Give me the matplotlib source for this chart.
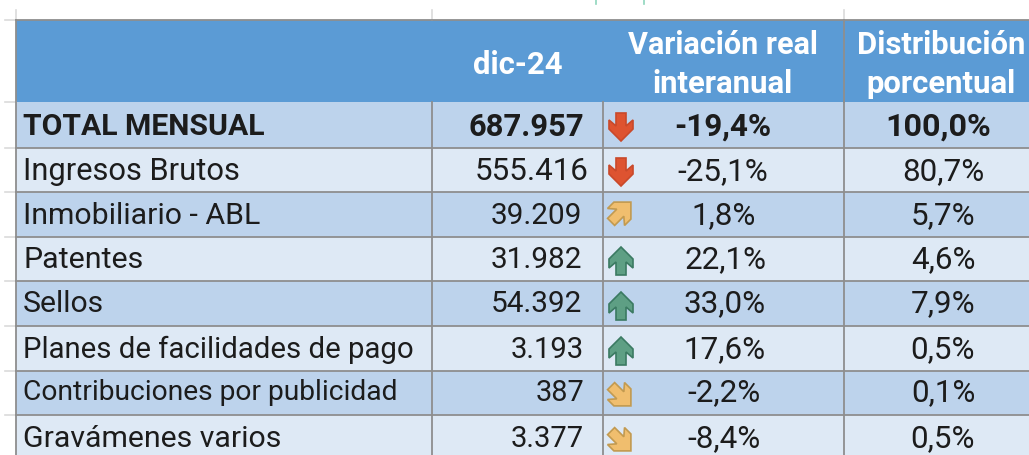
import matplotlib.pyplot as plt
from matplotlib.patches import Polygon, Rectangle
from matplotlib.transforms import Affine2D

plt.rcParams['font.family'] = ['Roboto', 'DejaVu Sans']

# Table contents
labels = ["TOTAL MENSUAL", "Ingresos Brutos", "Inmobiliario - ABL", "Patentes", "Sellos",
          "Planes de facilidades de pago", "Contribuciones por publicidad", "Gravámenes varios"]
amounts = ["687.957", "555.416", "39.209", "31.982", "54.392", "3.193", "387", "3.377"]
variation = ["-19,4%", "-25,1%", "1,8%", "22,1%", "33,0%", "17,6%", "-2,2%", "-8,4%"]
share = ["100,0%", "80,7%", "5,7%", "4,6%", "7,9%", "0,5%", "0,1%", "0,5%"]
# icon direction in degrees (0 = up, clockwise positive)
icon_angle = [180, 180, 45, 0, 0, 0, 135, 135]

# Layout in image pixels
col_x = [16, 432, 603, 844, 1029]
row_y = [102, 147.5, 192, 236.5, 281, 326, 370.5, 415, 455]
amount_right = [584, 589, 582, 582, 582, 584, 584, 584]
var_center = [723, 723, 724, 725, 725, 725, 724, 724]
share_center = [938, 943, 943, 943, 943, 943, 943, 943]
text_y = [127, 172, 216, 260, 304, 350, 393, 439]
icon_y = [127, 172, 212, 261, 306, 351, 396, 441]

# the source text was hinted unevenly, so sizes differ a little per row
label_fs = [21.7, 22.2, 21.8, 21.9, 21.7, 21.2, 20.3, 21.8]
amount_fs = [22.3, 22.6, 21.4, 21.4, 21.4, 21.1, 20.8, 21.1]

HEADER = "#5B9BD5"
DARK = "#BDD3EC"
LIGHT = "#DEE9F5"
LINE = "#8E8E8E"
FAINT = "#DADADA"
TEXT = "#1C1C1C"
FS_NUM = 22.6

# arrow pointing up, centred on 0,0 (the y axis runs downwards)
ARROW = [(0, -14), (12, -2), (12, 7), (5, 1), (5, 14), (-5, 14), (-5, 1), (-12, 7), (-12, -2)]


def icon_colors(angle):
    if angle == 180:
        return "#DE5330", "#C9492A"
    if angle == 0:
        return "#5E9F84", "#3B7A62"
    return "#F0BE6E", "#C29A50"


fig = plt.figure(figsize=(10.29, 4.55), dpi=100)
ax = fig.add_axes([0, 0, 1, 1])
ax.set_xlim(0, 1029)
ax.set_ylim(455, 0)
ax.axis("off")

# faint spreadsheet grid outside of the table
for x in [col_x[0], col_x[1], col_x[3]]:
    ax.plot([x, x], [10, 20], color=FAINT, lw=1.2)
for y in [20] + row_y[:-1]:
    ax.plot([5, col_x[0]], [y, y], color=FAINT, lw=1.2)
for x in [596, 644]:
    ax.plot([x, x], [0, 4], color="#8FD6BC", lw=1.2)

# header band
ax.add_patch(Rectangle((col_x[0], 20), col_x[-1] - col_x[0], row_y[0] - 20, color=HEADER, lw=0))
ax.plot([col_x[0], col_x[-1]], [20, 20], color=LINE, lw=1.3)
ax.plot([col_x[0], col_x[0]], [20, 455], color=LINE, lw=1.3)
ax.plot([col_x[3], col_x[3]], [20, row_y[0]], color=LINE, lw=1.3)
hdr = dict(color="white", fontsize=22.4, fontweight="bold", ha="center", va="center")
ax.text(518, 65, "dic-24", **hdr)
ax.text(723, 45, "Variación real", fontfamily=['Roboto', 'DejaVu Sans'], **{**hdr, "fontsize": 22})
ax.text(723, 84, "interanual", **hdr)
ax.text(941, 45, "Distribución", **hdr)
ax.text(941, 84, "porcentual", **hdr)

# body rows
for i, label in enumerate(labels):
    top, bottom = row_y[i], row_y[i + 1]
    ax.add_patch(Rectangle((col_x[0], top), col_x[-1] - col_x[0], bottom - top,
                           color=DARK if i % 2 == 0 else LIGHT, lw=0))
    weight = "bold" if i == 0 else "normal"
    common = dict(color=TEXT, fontweight=weight, va="center")
    ax.text(23, text_y[i], label, ha="left", fontsize=label_fs[i], **common)
    ax.text(amount_right[i], text_y[i], amounts[i], ha="right", fontsize=amount_fs[i], **common)
    ax.text(var_center[i], text_y[i], variation[i], ha="center", fontsize=FS_NUM, **common)
    ax.text(share_center[i], text_y[i], share[i], ha="center", fontsize=FS_NUM + (0.6 if i == 0 else 0), **common)

    # trend icon
    fill, edge = icon_colors(icon_angle[i])
    tr = Affine2D().rotate_deg(icon_angle[i]).translate(621, icon_y[i]) + ax.transData
    ax.add_patch(Polygon(ARROW, closed=True, facecolor=fill, edgecolor=edge, lw=1.2, transform=tr))

# cell borders
for y in row_y[1:-1]:
    ax.plot([col_x[0], col_x[-1]], [y, y], color=LINE, lw=1.3)
for x in col_x[1:4]:
    ax.plot([x, x], [row_y[0], 455], color=LINE, lw=1.3)

fig.savefig("out.png", dpi=100)
